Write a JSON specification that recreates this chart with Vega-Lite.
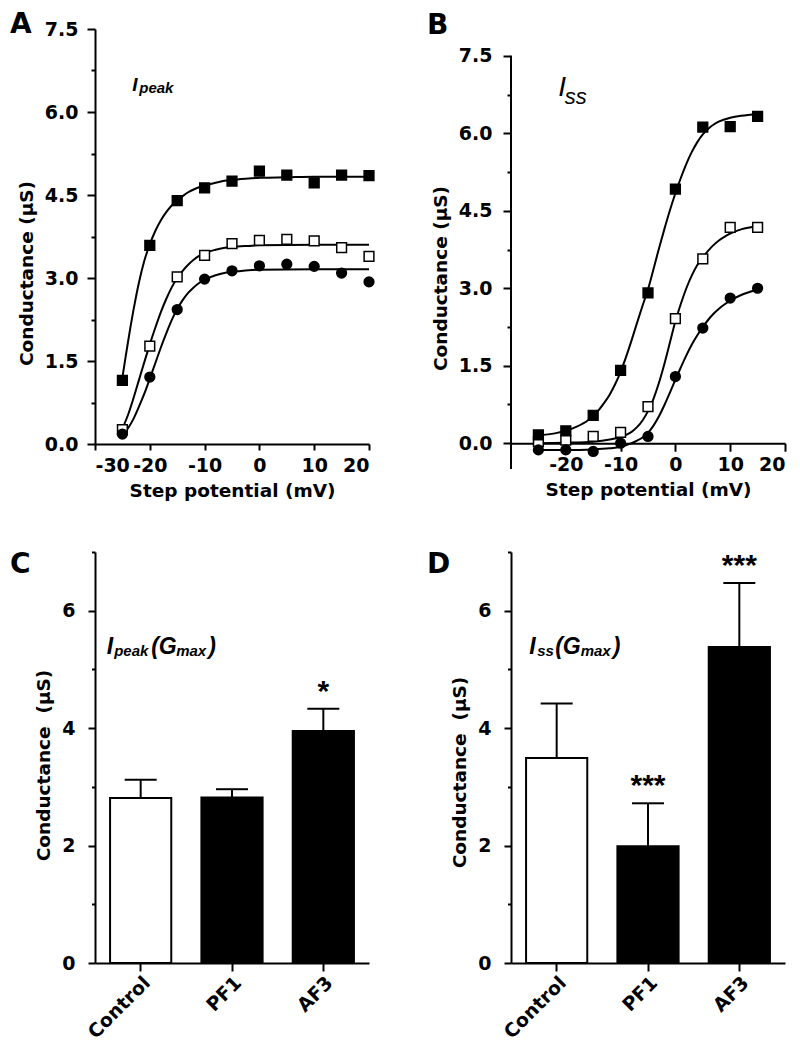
{
  "$schema": "https://vega.github.io/schema/vega-lite/v6.json",
  "background": "white",
  "padding": {"left": 10, "top": 11, "right": 5, "bottom": 2},
  "config": {
    "view": {"stroke": null},
    "font": "DejaVu Sans",
    "title": {"font": "DejaVu Sans", "color": "black"},
    "text": {"font": "Liberation Sans", "color": "black"},
    "axis": {
      "grid": false,
      "domainColor": "black", "domainWidth": 2,
      "tickColor": "black", "tickWidth": 2,
      "labelColor": "black", "labelFont": "DejaVu Sans", "labelFontSize": 19, "labelFontWeight": "bold",
      "titleColor": "black", "titleFont": "DejaVu Sans", "titleFontSize": 18.5, "titleFontWeight": "bold"
    }
  },
  "datasets": {
    "ptsA": [
      {"s": "Control", "V": -25, "G": 0.26}, {"s": "Control", "V": -20, "G": 1.77}, {"s": "Control", "V": -15, "G": 3.02}, {"s": "Control", "V": -10, "G": 3.41}, {"s": "Control", "V": -5, "G": 3.62}, {"s": "Control", "V": 0, "G": 3.68}, {"s": "Control", "V": 5, "G": 3.70}, {"s": "Control", "V": 10, "G": 3.67}, {"s": "Control", "V": 15, "G": 3.55}, {"s": "Control", "V": 20, "G": 3.39},
      {"s": "PF1", "V": -25, "G": 0.18}, {"s": "PF1", "V": -20, "G": 1.21}, {"s": "PF1", "V": -15, "G": 2.43}, {"s": "PF1", "V": -10, "G": 2.98}, {"s": "PF1", "V": -5, "G": 3.13}, {"s": "PF1", "V": 0, "G": 3.22}, {"s": "PF1", "V": 5, "G": 3.25}, {"s": "PF1", "V": 10, "G": 3.21}, {"s": "PF1", "V": 15, "G": 3.09}, {"s": "PF1", "V": 20, "G": 2.93},
      {"s": "AF3", "V": -25, "G": 1.15}, {"s": "AF3", "V": -20, "G": 3.59}, {"s": "AF3", "V": -15, "G": 4.40}, {"s": "AF3", "V": -10, "G": 4.63}, {"s": "AF3", "V": -5, "G": 4.75}, {"s": "AF3", "V": 0, "G": 4.93}, {"s": "AF3", "V": 5, "G": 4.86}, {"s": "AF3", "V": 10, "G": 4.72}, {"s": "AF3", "V": 15, "G": 4.86}, {"s": "AF3", "V": 20, "G": 4.85}
    ],
    "fitA": [
      {"s": "AF3", "V": -25, "G": 1.2}, {"s": "AF3", "V": -24.5, "G": 1.52}, {"s": "AF3", "V": -24, "G": 1.83}, {"s": "AF3", "V": -23.5, "G": 2.13}, {"s": "AF3", "V": -23, "G": 2.41}, {"s": "AF3", "V": -22.5, "G": 2.67}, {"s": "AF3", "V": -22, "G": 2.91}, {"s": "AF3", "V": -21, "G": 3.31}, {"s": "AF3", "V": -20, "G": 3.61}, {"s": "AF3", "V": -19, "G": 3.85}, {"s": "AF3", "V": -18, "G": 4.04}, {"s": "AF3", "V": -17, "G": 4.19}, {"s": "AF3", "V": -16, "G": 4.31}, {"s": "AF3", "V": -15, "G": 4.4}, {"s": "AF3", "V": -14, "G": 4.48}, {"s": "AF3", "V": -13, "G": 4.55}, {"s": "AF3", "V": -12, "G": 4.6}, {"s": "AF3", "V": -11, "G": 4.64}, {"s": "AF3", "V": -10, "G": 4.67}, {"s": "AF3", "V": -8, "G": 4.72}, {"s": "AF3", "V": -6, "G": 4.76}, {"s": "AF3", "V": -4, "G": 4.78}, {"s": "AF3", "V": -2, "G": 4.8}, {"s": "AF3", "V": 0, "G": 4.81}, {"s": "AF3", "V": 5, "G": 4.82}, {"s": "AF3", "V": 10, "G": 4.83}, {"s": "AF3", "V": 15, "G": 4.83}, {"s": "AF3", "V": 20, "G": 4.83},
      {"s": "Control", "V": -25, "G": 0.28}, {"s": "Control", "V": -24, "G": 0.52}, {"s": "Control", "V": -23, "G": 0.82}, {"s": "Control", "V": -22, "G": 1.15}, {"s": "Control", "V": -21, "G": 1.48}, {"s": "Control", "V": -20, "G": 1.8}, {"s": "Control", "V": -19, "G": 2.1}, {"s": "Control", "V": -18, "G": 2.38}, {"s": "Control", "V": -17, "G": 2.62}, {"s": "Control", "V": -16, "G": 2.83}, {"s": "Control", "V": -15, "G": 3.0}, {"s": "Control", "V": -14, "G": 3.13}, {"s": "Control", "V": -13, "G": 3.24}, {"s": "Control", "V": -12, "G": 3.33}, {"s": "Control", "V": -11, "G": 3.4}, {"s": "Control", "V": -10, "G": 3.45}, {"s": "Control", "V": -8, "G": 3.51}, {"s": "Control", "V": -6, "G": 3.55}, {"s": "Control", "V": -4, "G": 3.57}, {"s": "Control", "V": -2, "G": 3.58}, {"s": "Control", "V": 0, "G": 3.59}, {"s": "Control", "V": 10, "G": 3.6}, {"s": "Control", "V": 20, "G": 3.6},
      {"s": "PF1", "V": -25, "G": 0.15}, {"s": "PF1", "V": -24, "G": 0.28}, {"s": "PF1", "V": -23, "G": 0.45}, {"s": "PF1", "V": -22, "G": 0.67}, {"s": "PF1", "V": -21, "G": 0.91}, {"s": "PF1", "V": -20, "G": 1.18}, {"s": "PF1", "V": -19, "G": 1.46}, {"s": "PF1", "V": -18, "G": 1.74}, {"s": "PF1", "V": -17, "G": 2.0}, {"s": "PF1", "V": -16, "G": 2.24}, {"s": "PF1", "V": -15, "G": 2.44}, {"s": "PF1", "V": -14, "G": 2.6}, {"s": "PF1", "V": -13, "G": 2.73}, {"s": "PF1", "V": -12, "G": 2.83}, {"s": "PF1", "V": -11, "G": 2.91}, {"s": "PF1", "V": -10, "G": 2.97}, {"s": "PF1", "V": -8, "G": 3.05}, {"s": "PF1", "V": -6, "G": 3.1}, {"s": "PF1", "V": -4, "G": 3.12}, {"s": "PF1", "V": -2, "G": 3.14}, {"s": "PF1", "V": 0, "G": 3.15}, {"s": "PF1", "V": 10, "G": 3.16}, {"s": "PF1", "V": 20, "G": 3.16}
    ],
    "ptsB": [
      {"s": "Control", "V": -25, "G": 0.03}, {"s": "Control", "V": -20, "G": 0.06}, {"s": "Control", "V": -15, "G": 0.13}, {"s": "Control", "V": -10, "G": 0.21}, {"s": "Control", "V": -5, "G": 0.71}, {"s": "Control", "V": 0, "G": 2.41}, {"s": "Control", "V": 5, "G": 3.57}, {"s": "Control", "V": 10, "G": 4.18}, {"s": "Control", "V": 15, "G": 4.18},
      {"s": "PF1", "V": -25, "G": -0.13}, {"s": "PF1", "V": -20, "G": -0.13}, {"s": "PF1", "V": -15, "G": -0.16}, {"s": "PF1", "V": -10, "G": 0.0}, {"s": "PF1", "V": -5, "G": 0.13}, {"s": "PF1", "V": 0, "G": 1.29}, {"s": "PF1", "V": 5, "G": 2.23}, {"s": "PF1", "V": 10, "G": 2.81}, {"s": "PF1", "V": 15, "G": 3.0},
      {"s": "AF3", "V": -25, "G": 0.16}, {"s": "AF3", "V": -20, "G": 0.24}, {"s": "AF3", "V": -15, "G": 0.54}, {"s": "AF3", "V": -10, "G": 1.41}, {"s": "AF3", "V": -5, "G": 2.91}, {"s": "AF3", "V": 0, "G": 4.92}, {"s": "AF3", "V": 5, "G": 6.12}, {"s": "AF3", "V": 10, "G": 6.13}, {"s": "AF3", "V": 15, "G": 6.33}
    ],
    "fitB": [
      {"s": "AF3", "V": -25, "G": 0.15}, {"s": "AF3", "V": -22, "G": 0.19}, {"s": "AF3", "V": -20, "G": 0.24}, {"s": "AF3", "V": -18, "G": 0.32}, {"s": "AF3", "V": -16, "G": 0.44}, {"s": "AF3", "V": -15, "G": 0.53}, {"s": "AF3", "V": -14, "G": 0.64}, {"s": "AF3", "V": -13, "G": 0.78}, {"s": "AF3", "V": -12, "G": 0.94}, {"s": "AF3", "V": -11, "G": 1.14}, {"s": "AF3", "V": -10, "G": 1.38}, {"s": "AF3", "V": -9, "G": 1.67}, {"s": "AF3", "V": -8, "G": 1.99}, {"s": "AF3", "V": -7, "G": 2.33}, {"s": "AF3", "V": -6, "G": 2.66}, {"s": "AF3", "V": -5, "G": 2.98}, {"s": "AF3", "V": -4, "G": 3.37}, {"s": "AF3", "V": -3, "G": 3.77}, {"s": "AF3", "V": -2, "G": 4.15}, {"s": "AF3", "V": -1, "G": 4.51}, {"s": "AF3", "V": 0, "G": 4.84}, {"s": "AF3", "V": 1, "G": 5.14}, {"s": "AF3", "V": 2, "G": 5.41}, {"s": "AF3", "V": 3, "G": 5.64}, {"s": "AF3", "V": 4, "G": 5.83}, {"s": "AF3", "V": 5, "G": 5.98}, {"s": "AF3", "V": 6, "G": 6.09}, {"s": "AF3", "V": 7, "G": 6.17}, {"s": "AF3", "V": 8, "G": 6.23}, {"s": "AF3", "V": 10, "G": 6.3}, {"s": "AF3", "V": 12, "G": 6.34}, {"s": "AF3", "V": 15, "G": 6.37},
      {"s": "Control", "V": -25, "G": 0.0}, {"s": "Control", "V": -20, "G": 0.01}, {"s": "Control", "V": -15, "G": 0.03}, {"s": "Control", "V": -12, "G": 0.07}, {"s": "Control", "V": -10, "G": 0.12}, {"s": "Control", "V": -9, "G": 0.16}, {"s": "Control", "V": -8, "G": 0.22}, {"s": "Control", "V": -7, "G": 0.31}, {"s": "Control", "V": -6, "G": 0.44}, {"s": "Control", "V": -5, "G": 0.62}, {"s": "Control", "V": -4, "G": 0.86}, {"s": "Control", "V": -3, "G": 1.17}, {"s": "Control", "V": -2, "G": 1.54}, {"s": "Control", "V": -1, "G": 1.95}, {"s": "Control", "V": 0, "G": 2.36}, {"s": "Control", "V": 1, "G": 2.7}, {"s": "Control", "V": 2, "G": 3.0}, {"s": "Control", "V": 3, "G": 3.25}, {"s": "Control", "V": 4, "G": 3.45}, {"s": "Control", "V": 5, "G": 3.6}, {"s": "Control", "V": 6, "G": 3.73}, {"s": "Control", "V": 7, "G": 3.84}, {"s": "Control", "V": 8, "G": 3.93}, {"s": "Control", "V": 9, "G": 4.0}, {"s": "Control", "V": 10, "G": 4.06}, {"s": "Control", "V": 12, "G": 4.14}, {"s": "Control", "V": 15, "G": 4.2},
      {"s": "PF1", "V": -25, "G": -0.13}, {"s": "PF1", "V": -20, "G": -0.13}, {"s": "PF1", "V": -15, "G": -0.12}, {"s": "PF1", "V": -12, "G": -0.1}, {"s": "PF1", "V": -10, "G": -0.07}, {"s": "PF1", "V": -9, "G": -0.04}, {"s": "PF1", "V": -8, "G": 0.0}, {"s": "PF1", "V": -7, "G": 0.05}, {"s": "PF1", "V": -6, "G": 0.11}, {"s": "PF1", "V": -5, "G": 0.2}, {"s": "PF1", "V": -4, "G": 0.34}, {"s": "PF1", "V": -3, "G": 0.52}, {"s": "PF1", "V": -2, "G": 0.74}, {"s": "PF1", "V": -1, "G": 0.98}, {"s": "PF1", "V": 0, "G": 1.23}, {"s": "PF1", "V": 1, "G": 1.47}, {"s": "PF1", "V": 2, "G": 1.7}, {"s": "PF1", "V": 3, "G": 1.91}, {"s": "PF1", "V": 4, "G": 2.09}, {"s": "PF1", "V": 5, "G": 2.25}, {"s": "PF1", "V": 6, "G": 2.39}, {"s": "PF1", "V": 7, "G": 2.51}, {"s": "PF1", "V": 8, "G": 2.61}, {"s": "PF1", "V": 9, "G": 2.69}, {"s": "PF1", "V": 10, "G": 2.76}, {"s": "PF1", "V": 12, "G": 2.87}, {"s": "PF1", "V": 15, "G": 2.97}
    ],
    "barsC": [
      {"cond": "Control", "mean": 2.81, "upper": 3.12, "sig": ""},
      {"cond": "PF1", "mean": 2.82, "upper": 2.96, "sig": ""},
      {"cond": "AF3", "mean": 3.95, "upper": 4.33, "sig": "*"}
    ],
    "barsD": [
      {"cond": "Control", "mean": 3.49, "upper": 4.42, "sig": ""},
      {"cond": "PF1", "mean": 1.99, "upper": 2.72, "sig": "***"},
      {"cond": "AF3", "mean": 5.38, "upper": 6.47, "sig": "***"}
    ]
  },
  "spacing": 50,
  "hconcat": [
    {
      "spacing": 51,
      "vconcat": [
        {
          "width": 274, "height": 415,
          "title": {"text": "A", "anchor": "start", "frame": "group", "dx": -85, "offset": -41, "fontSize": 28, "fontWeight": "bold", "baseline": "alphabetic"},
          "layer": [
            {
              "data": {"name": "fitA"},
              "mark": {"type": "line", "color": "black", "strokeWidth": 2, "interpolate": "monotone"},
              "encoding": {
                "x": {"field": "V", "type": "quantitative", "scale": {"domain": [-30, 20], "nice": false},
                  "axis": {"title": "Step potential (mV)", "values": [-30, -20, -10, 0, 10, 20], "labelExpr": "'' + datum.value", "tickSize": 6, "labelPadding": 6, "titlePadding": 6}},
                "y": {"field": "G", "type": "quantitative", "scale": {"domain": [0, 7.5], "nice": false, "zero": false},
                  "axis": {"title": "Conductance (µS)", "values": [0, 0.75, 1.5, 2.25, 3, 3.75, 4.5, 5.25, 6, 6.75, 7.5],
                    "labelExpr": "datum.value % 1.5 === 0 ? format(datum.value, '.1f') : ''",
                    "tickSize": {"condition": {"test": "datum.value % 1.5 === 0", "value": 8}, "value": 4},
                    "labelPadding": 9, "titlePadding": 8, "titleY": 244}},
                "detail": {"field": "s"}
              }
            },
            {
              "data": {"name": "ptsA"},
              "mark": {"type": "point", "size": 95, "strokeWidth": 1.5, "stroke": "black", "opacity": 1},
              "encoding": {
                "x": {"field": "V", "type": "quantitative"},
                "y": {"field": "G", "type": "quantitative"},
                "shape": {"field": "s", "scale": {"domain": ["AF3", "Control", "PF1"], "range": ["square", "square", "circle"]}, "legend": null},
                "fill": {"field": "s", "scale": {"domain": ["AF3", "Control", "PF1"], "range": ["black", "white", "black"]}, "legend": null}
              }
            },
            {
              "data": {"values": [{}]},
              "mark": {"type": "text", "text": "I", "fontSize": 19, "fontWeight": "bold", "fontStyle": "italic", "align": "left", "baseline": "alphabetic"},
              "encoding": {"x": {"datum": -23.2}, "y": {"datum": 6.38}}
            },
            {
              "data": {"values": [{}]},
              "mark": {"type": "text", "text": "peak", "fontSize": 15, "fontWeight": "bold", "fontStyle": "italic", "align": "left", "baseline": "alphabetic", "dx": 7, "dy": 2},
              "encoding": {"x": {"datum": -23.2}, "y": {"datum": 6.38}}
            }
          ]
        },
        {
          "width": 274, "height": 411,
          "title": {"text": "C", "anchor": "start", "frame": "group", "dx": -85, "offset": -50, "fontSize": 28, "fontWeight": "bold", "baseline": "alphabetic"},
          "data": {"name": "barsC"},
          "layer": [
            {
              "mark": {"type": "bar", "stroke": "black", "strokeWidth": 2},
              "encoding": {
                "x": {"field": "cond", "type": "nominal", "sort": null, "scale": {"domain": ["Control", "PF1", "AF3"], "paddingInner": 0.33, "paddingOuter": 0.165},
                  "axis": {"title": null, "labelAngle": -45, "tickSize": 8, "labelPadding": 2}},
                "y": {"field": "mean", "type": "quantitative", "scale": {"domain": [0, 7], "nice": false},
                  "axis": {"title": "Conductance \u00a0(µS)", "values": [0, 1, 2, 3, 4, 5, 6, 7],
                    "labelExpr": "datum.value % 2 === 0 ? '' + datum.value : ''",
                    "tickSize": {"condition": {"test": "datum.value % 2 === 0", "value": 7}, "value": 3.5},
                    "labelPadding": 13, "titlePadding": 8, "titleY": 213}},
                "fill": {"field": "cond", "scale": {"domain": ["Control", "PF1", "AF3"], "range": ["white", "black", "black"]}, "legend": null}
              }
            },
            {
              "mark": {"type": "rule", "color": "black", "strokeWidth": 2},
              "encoding": {"x": {"field": "cond", "type": "nominal", "sort": null}, "y": {"field": "mean", "type": "quantitative"}, "y2": {"field": "upper"}}
            },
            {
              "mark": {"type": "tick", "orient": "horizontal", "size": 32, "thickness": 2, "color": "black", "opacity": 1},
              "encoding": {"x": {"field": "cond", "type": "nominal", "sort": null}, "y": {"field": "upper", "type": "quantitative"}}
            },
            {
              "mark": {"type": "text", "fontSize": 30, "fontWeight": "bold", "baseline": "alphabetic", "dy": -8},
              "encoding": {"x": {"field": "cond", "type": "nominal", "sort": null}, "y": {"field": "upper", "type": "quantitative"}, "text": {"field": "sig"}}
            },
            {
              "data": {"values": [{}]},
              "mark": {"type": "text", "text": "I", "fontSize": 23, "fontWeight": "bold", "fontStyle": "italic", "align": "left", "baseline": "alphabetic", "dx": -34},
              "encoding": {"x": {"datum": "Control"}, "y": {"datum": 5.26}}
            },
            {
              "data": {"values": [{}]},
              "mark": {"type": "text", "text": "peak", "fontSize": 15, "fontWeight": "bold", "fontStyle": "italic", "align": "left", "baseline": "alphabetic", "dx": -26.5, "dy": 2},
              "encoding": {"x": {"datum": "Control"}, "y": {"datum": 5.26}}
            },
            {
              "data": {"values": [{}]},
              "mark": {"type": "text", "text": "(G", "fontSize": 23, "fontWeight": "bold", "fontStyle": "italic", "align": "left", "baseline": "alphabetic", "dx": 10.5},
              "encoding": {"x": {"datum": "Control"}, "y": {"datum": 5.26}}
            },
            {
              "data": {"values": [{}]},
              "mark": {"type": "text", "text": "max", "fontSize": 15, "fontWeight": "bold", "fontStyle": "italic", "align": "left", "baseline": "alphabetic", "dx": 35.5, "dy": 2},
              "encoding": {"x": {"datum": "Control"}, "y": {"datum": 5.26}}
            },
            {
              "data": {"values": [{}]},
              "mark": {"type": "text", "text": ")", "fontSize": 23, "fontWeight": "bold", "fontStyle": "italic", "align": "left", "baseline": "alphabetic", "dx": 67.5},
              "encoding": {"x": {"datum": "Control"}, "y": {"datum": 5.26}}
            }
          ]
        }
      ]
    },
    {
      "spacing": 52,
      "vconcat": [
        {
          "width": 274, "height": 440,
          "title": {"text": "B", "anchor": "start", "frame": "group", "dx": -84, "offset": -33, "fontSize": 28, "fontWeight": "bold", "baseline": "alphabetic"},
          "layer": [
            {
              "data": {"name": "fitB"},
              "mark": {"type": "line", "color": "black", "strokeWidth": 2, "interpolate": "monotone"},
              "encoding": {
                "x": {"field": "V", "type": "quantitative", "scale": {"domain": [-30, 20], "nice": false},
                  "axis": {"title": "Step potential (mV)", "values": [-20, -10, 0, 10, 20], "labelExpr": "'' + datum.value", "tickSize": 8, "labelPadding": 4, "titlePadding": 6, "offset": -25.8}},
                "y": {"field": "G", "type": "quantitative", "scale": {"domain": [-0.5, 8.02], "nice": false, "zero": false},
                  "axis": {"title": "Conductance (µS)", "domain": false, "values": [0, 0.75, 1.5, 2.25, 3, 3.75, 4.5, 5.25, 6, 6.75, 7.5],
                    "labelExpr": "datum.value % 1.5 === 0 ? format(datum.value, '.1f') : ''",
                    "tickSize": {"condition": {"test": "datum.value % 1.5 === 0", "value": 8}, "value": 4},
                    "labelPadding": 11, "titlePadding": 8, "titleY": 249}},
                "detail": {"field": "s"}
              }
            },
            {
              "data": {"values": [{}]},
              "mark": {"type": "rule", "color": "black", "strokeWidth": 2},
              "encoding": {"x": {"datum": -30}, "y": {"datum": -0.5}, "y2": {"datum": 7.5}}
            },
            {
              "data": {"name": "ptsB"},
              "mark": {"type": "point", "size": 95, "strokeWidth": 1.5, "stroke": "black", "opacity": 1},
              "encoding": {
                "x": {"field": "V", "type": "quantitative"},
                "y": {"field": "G", "type": "quantitative"},
                "shape": {"field": "s", "scale": {"domain": ["AF3", "Control", "PF1"], "range": ["square", "square", "circle"]}, "legend": null},
                "fill": {"field": "s", "scale": {"domain": ["AF3", "Control", "PF1"], "range": ["black", "white", "black"]}, "legend": null}
              }
            },
            {
              "data": {"values": [{}]},
              "mark": {"type": "text", "text": "I", "fontSize": 28, "fontStyle": "italic", "align": "left", "baseline": "alphabetic"},
              "encoding": {"x": {"datum": -21.4}, "y": {"datum": 6.72}}
            },
            {
              "data": {"values": [{}]},
              "mark": {"type": "text", "text": "ss", "fontSize": 22, "fontStyle": "italic", "align": "left", "baseline": "alphabetic", "dx": 6.5, "dy": 8},
              "encoding": {"x": {"datum": -21.4}, "y": {"datum": 6.72}}
            }
          ]
        },
        {
          "width": 274, "height": 411,
          "title": {"text": "D", "anchor": "start", "frame": "group", "dx": -84, "offset": -50, "fontSize": 28, "fontWeight": "bold", "baseline": "alphabetic"},
          "data": {"name": "barsD"},
          "layer": [
            {
              "mark": {"type": "bar", "stroke": "black", "strokeWidth": 2},
              "encoding": {
                "x": {"field": "cond", "type": "nominal", "sort": null, "scale": {"domain": ["Control", "PF1", "AF3"], "paddingInner": 0.33, "paddingOuter": 0.165},
                  "axis": {"title": null, "labelAngle": -45, "tickSize": 8, "labelPadding": 2}},
                "y": {"field": "mean", "type": "quantitative", "scale": {"domain": [0, 7], "nice": false},
                  "axis": {"title": "Conductance \u00a0(µS)", "values": [0, 1, 2, 3, 4, 5, 6, 7],
                    "labelExpr": "datum.value % 2 === 0 ? '' + datum.value : ''",
                    "tickSize": {"condition": {"test": "datum.value % 2 === 0", "value": 7}, "value": 3.5},
                    "labelPadding": 13, "titlePadding": 8, "titleY": 220}},
                "fill": {"field": "cond", "scale": {"domain": ["Control", "PF1", "AF3"], "range": ["white", "black", "black"]}, "legend": null}
              }
            },
            {
              "mark": {"type": "rule", "color": "black", "strokeWidth": 2},
              "encoding": {"x": {"field": "cond", "type": "nominal", "sort": null}, "y": {"field": "mean", "type": "quantitative"}, "y2": {"field": "upper"}}
            },
            {
              "mark": {"type": "tick", "orient": "horizontal", "size": 32, "thickness": 2, "color": "black", "opacity": 1},
              "encoding": {"x": {"field": "cond", "type": "nominal", "sort": null}, "y": {"field": "upper", "type": "quantitative"}}
            },
            {
              "mark": {"type": "text", "fontSize": 30, "fontWeight": "bold", "baseline": "alphabetic", "dy": -8},
              "encoding": {"x": {"field": "cond", "type": "nominal", "sort": null}, "y": {"field": "upper", "type": "quantitative"}, "text": {"field": "sig"}}
            },
            {
              "data": {"values": [{}]},
              "mark": {"type": "text", "text": "I", "fontSize": 23, "fontWeight": "bold", "fontStyle": "italic", "align": "left", "baseline": "alphabetic", "dx": -27.5},
              "encoding": {"x": {"datum": "Control"}, "y": {"datum": 5.26}}
            },
            {
              "data": {"values": [{}]},
              "mark": {"type": "text", "text": "ss", "fontSize": 15, "fontWeight": "bold", "fontStyle": "italic", "align": "left", "baseline": "alphabetic", "dx": -19.5, "dy": 2},
              "encoding": {"x": {"datum": "Control"}, "y": {"datum": 5.26}}
            },
            {
              "data": {"values": [{}]},
              "mark": {"type": "text", "text": "(G", "fontSize": 23, "fontWeight": "bold", "fontStyle": "italic", "align": "left", "baseline": "alphabetic", "dx": -1.5},
              "encoding": {"x": {"datum": "Control"}, "y": {"datum": 5.26}}
            },
            {
              "data": {"values": [{}]},
              "mark": {"type": "text", "text": "max", "fontSize": 15, "fontWeight": "bold", "fontStyle": "italic", "align": "left", "baseline": "alphabetic", "dx": 24, "dy": 2},
              "encoding": {"x": {"datum": "Control"}, "y": {"datum": 5.26}}
            },
            {
              "data": {"values": [{}]},
              "mark": {"type": "text", "text": ")", "fontSize": 23, "fontWeight": "bold", "fontStyle": "italic", "align": "left", "baseline": "alphabetic", "dx": 56},
              "encoding": {"x": {"datum": "Control"}, "y": {"datum": 5.26}}
            }
          ]
        }
      ]
    }
  ]
}
